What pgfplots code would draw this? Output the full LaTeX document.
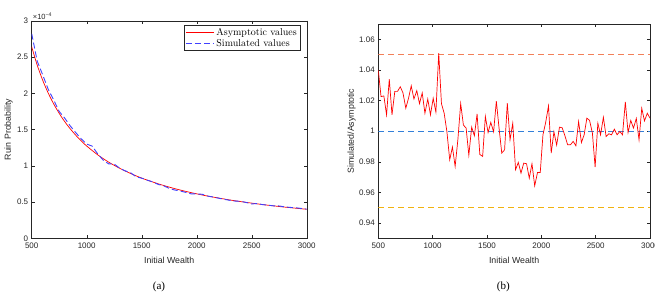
\documentclass[border=0pt]{standalone}
\usepackage{pgfplots}
\pgfplotsset{compat=1.18}
\usepackage{pgfplotstable}
\usepackage{fontspec}
\newfontfamily\hv{Liberation Sans}
\newfontfamily\tm{Liberation Serif}
\definecolor{axgray}{rgb}{0.15,0.15,0.15}

\pgfplotstableread{
x y
500 2.640e-4
550 2.388e-4
600 2.179e-4
650 2.003e-4
700 1.852e-4
750 1.723e-4
800 1.609e-4
850 1.510e-4
900 1.422e-4
950 1.343e-4
1000 1.272e-4
1100 1.151e-4
1200 1.050e-4
1300 0.965e-4
1400 0.893e-4
1500 0.830e-4
1600 0.776e-4
1700 0.728e-4
1800 0.685e-4
1900 0.647e-4
2000 0.613e-4
2100 0.582e-4
2200 0.555e-4
2300 0.529e-4
2400 0.506e-4
2500 0.485e-4
2600 0.465e-4
2700 0.447e-4
2800 0.430e-4
2900 0.415e-4
3000 0.400e-4
}\asym

\pgfplotstableread{
x y
500 2.820e-4
550 2.443e-4
600 2.253e-4
650 2.055e-4
700 1.906e-4
750 1.749e-4
800 1.657e-4
850 1.550e-4
900 1.458e-4
950 1.371e-4
1000 1.299e-4
1050 1.271e-4
1100 1.164e-4
1150 1.078e-4
1200 1.026e-4
1250 1.024e-4
1300 0.967e-4
1350 0.930e-4
1400 0.903e-4
1450 0.847e-4
1500 0.829e-4
1550 0.802e-4
1600 0.778e-4
1650 0.743e-4
1700 0.724e-4
1750 0.688e-4
1800 0.666e-4
1850 0.652e-4
1900 0.633e-4
1950 0.613e-4
2000 0.612e-4
2050 0.607e-4
2100 0.582e-4
2150 0.569e-4
2200 0.553e-4
2250 0.537e-4
2300 0.524e-4
2350 0.513e-4
2400 0.510e-4
2450 0.494e-4
2500 0.474e-4
2550 0.479e-4
2600 0.464e-4
2650 0.457e-4
2700 0.447e-4
2750 0.446e-4
2800 0.433e-4
2850 0.426e-4
2900 0.421e-4
2950 0.412e-4
3000 0.403e-4
}\simul

\pgfplotstableread{
x y
500 1.0400
525 1.0226
551 1.0230
576 1.0107
601 1.0340
626 1.0107
652 1.0260
677 1.0260
702 1.0290
727 1.0250
753 1.0150
778 1.0215
803 1.0296
828 1.0210
854 1.0265
879 1.0180
904 1.0250
929 1.0117
955 1.0210
980 1.0107
1005 1.0215
1030 1.0124
1056 1.0510
1081 1.0180
1106 1.0117
1131 0.9998
1157 0.9813
1182 0.9896
1207 0.9770
1232 0.9943
1258 1.0180
1283 1.0040
1308 1.0020
1333 0.9843
1359 1.0026
1384 0.9970
1409 1.0113
1434 0.9848
1460 0.9835
1485 1.0096
1510 0.9991
1535 1.0057
1561 0.9996
1586 1.0196
1611 1.0020
1636 0.9857
1662 0.9878
1687 1.0183
1712 0.9943
1737 1.0052
1763 0.9748
1788 0.9796
1813 0.9726
1838 0.9791
1864 0.9787
1889 0.9693
1914 0.9787
1939 0.9643
1965 0.9730
1990 0.9730
2015 0.9976
2040 1.0057
2066 1.0165
2091 0.9857
2116 0.9996
2141 0.9909
2167 1.0026
2192 1.0022
2217 0.9970
2242 0.9911
2268 0.9911
2293 0.9933
2318 0.9904
2343 1.0063
2369 0.9926
2394 0.9976
2419 1.0085
2444 1.0070
2470 0.9987
2495 0.9765
2520 1.0052
2545 0.9976
2571 1.0091
2596 0.9965
2621 0.9983
2646 0.9976
2672 1.0013
2697 0.9976
2722 0.9998
2747 0.9976
2773 1.0191
2798 0.9991
2823 1.0070
2848 1.0020
2874 1.0083
2899 0.9943
2924 1.0150
2949 1.0067
2975 1.0117
3000 1.0085
}\ratio

\begin{document}
\begin{tikzpicture}
\useasboundingbox (0pt,0pt) rectangle (655pt,298pt);
\pgfplotsset{mstyle/.style={
  scale only axis, anchor=south west,
  axis line style={axgray, line width=0.4pt},
  every tick/.style={axgray, line width=0.4pt},
  major tick length=3pt, tick align=inside,
  ticklabel style={font=\hv\fontsize{8}{9}\selectfont, text=axgray},
  xticklabel style={yshift=-1.2pt},
  label style={font=\hv\fontsize{8.8}{10}\selectfont, text=axgray},
  /pgf/number format/assume math mode=true,
  /pgf/number format/1000 sep={},
  xmin=500, xmax=3000, xtick={500,1000,1500,2000,2500,3000},
  xlabel={Initial Wealth},
  scaled x ticks=false,
}}
\begin{axis}[mstyle,
  at={(31.7pt,59.7pt)}, width=275pt, height=217.6pt,
  ymin=0, ymax=3e-4,
  ytick={0,0.00005,0.0001,0.00015,0.0002,0.00025,0.0003},
  scaled y ticks=base 10:4,
  ytick scale label code/.code={×10\textsuperscript{−4}},
  every y tick scale label/.style={at={(axis description cs:0,1)}, anchor=south west, inner sep=1pt, font=\hv\fontsize{7.5}{8}\selectfont, text=axgray},
  ylabel={Ruin Probability},
  ylabel style={at={(axis description cs:-0.0836,0.5)}, anchor=center},
  xlabel style={at={(axis description cs:0.5,-0.0997)}, anchor=center},
  legend style={at={(axis description cs:0.9756,0.979)}, anchor=north east,
    font=\fontsize{10}{11}\selectfont, draw=axgray, line width=0.4pt,
    inner sep=1pt, row sep=-2pt, cells={anchor=west}},
  legend image code/.code={\draw[#1] (0pt,0pt) -- (28pt,0pt);},
]
\addplot[red, line width=0.7pt, smooth] table {\asym};
\addlegendentry{Asymptotic values}
\addplot[color={rgb,1:red,0.25;green,0.25;blue,1}, line width=0.9pt, dash pattern=on 6pt off 3pt] table {\simul};
\addlegendentry{Simulated values}
\end{axis}

\begin{axis}[mstyle,
  at={(378.3pt,59.7pt)}, width=271.7pt, height=214.3pt,
  ymin=0.93, ymax=1.07,
  ytick={0.94,0.96,0.98,1,1.02,1.04,1.06},
  yticklabel style={/pgf/number format/.cd, fixed, precision=2},
  scaled y ticks=false,
  ylabel={Simulated/Asymptotic},
  ylabel style={at={(axis description cs:-0.0986,0.5)}, anchor=center},
  xlabel style={at={(axis description cs:0.5,-0.101)}, anchor=center},
]
\addplot[color={rgb,1:red,0.95;green,0.50;blue,0.35}, line width=1.1pt, dash pattern=on 6pt off 4pt] coordinates {(500,1.05) (3000,1.05)};
\addplot[color={rgb,1:red,0.20;green,0.50;blue,0.85}, line width=1.1pt, dash pattern=on 6pt off 4pt] coordinates {(500,1.0) (3000,1.0)};
\addplot[color={rgb,1:red,0.95;green,0.70;blue,0.05}, line width=1.1pt, dash pattern=on 6pt off 4pt] coordinates {(500,0.95) (3000,0.95)};
\addplot[color=red, line width=0.7pt] table {\ratio};
\end{axis}

\node[font=\tm\fontsize{11}{12}\selectfont] at (159pt,11pt) {(a)};
\node[font=\tm\fontsize{11}{12}\selectfont] at (503.3pt,11pt) {(b)};
\end{tikzpicture}
\end{document}
